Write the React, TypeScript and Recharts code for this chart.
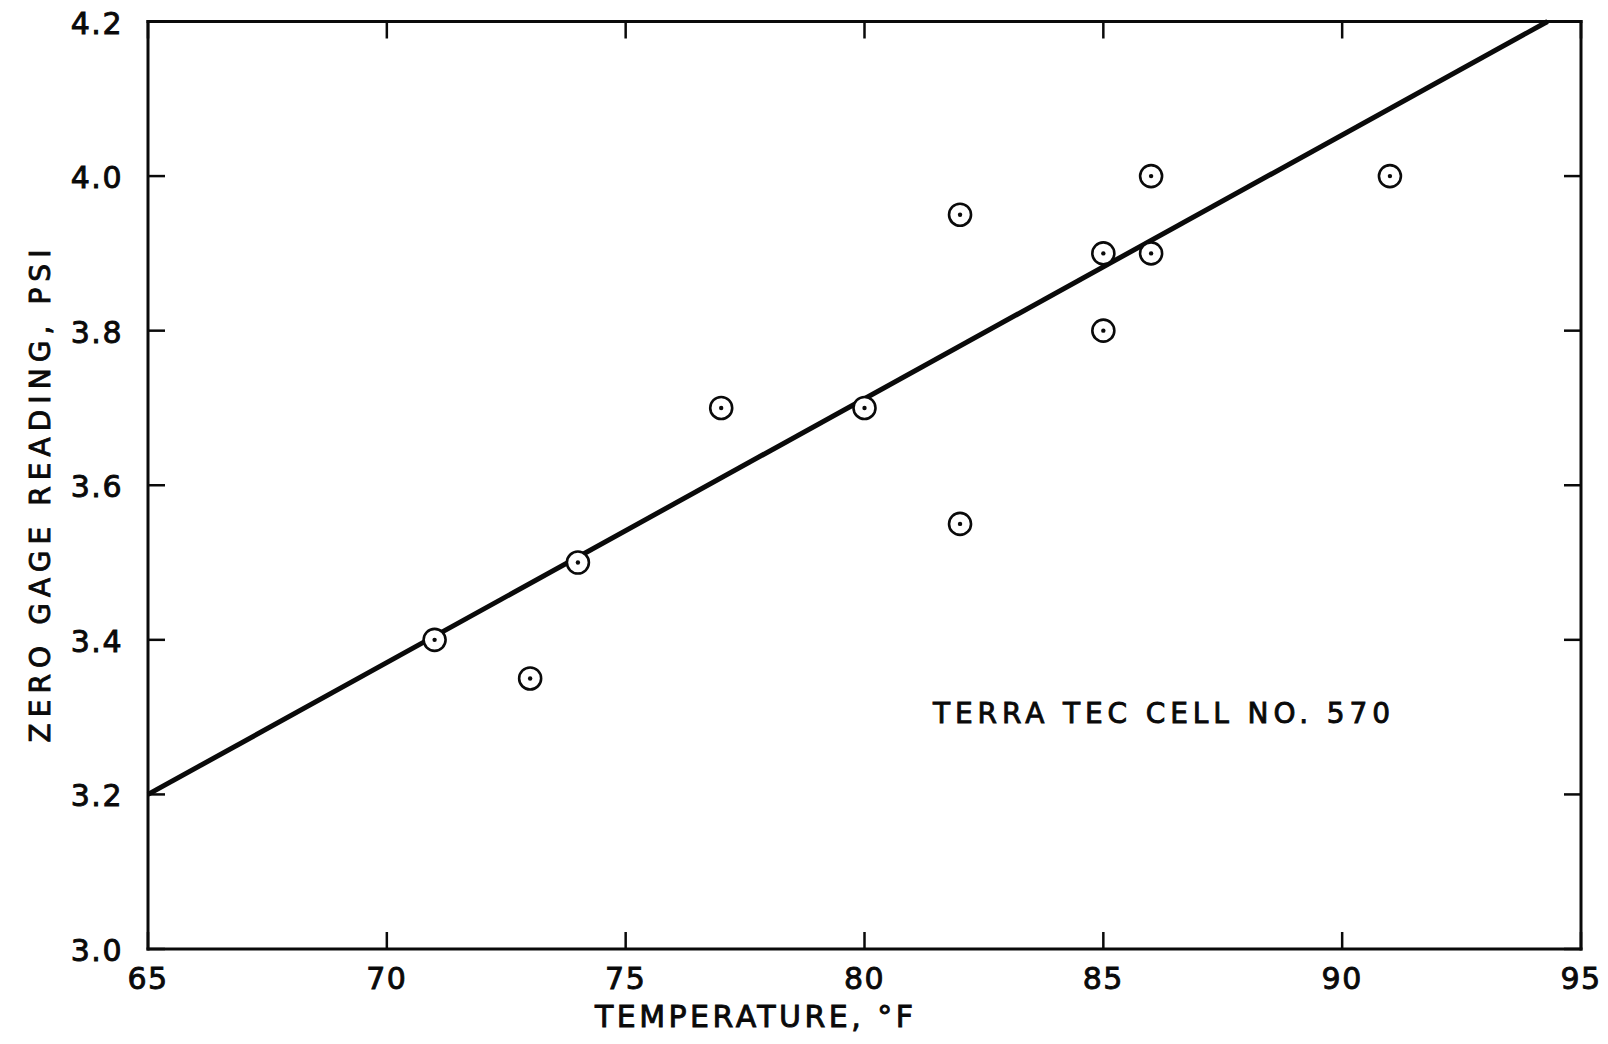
import React from 'react';
import { ScatterChart, Scatter, XAxis, YAxis } from 'recharts';

// ---- data ----
const temperatures = [71, 73, 74, 77, 80, 82, 82, 85, 85, 86, 86, 91];
const gageReadings = [3.4, 3.35, 3.5, 3.7, 3.7, 3.95, 3.55, 3.9, 3.8, 4.0, 3.9, 4.0];
const fitTemperatures = [65, 94.3];
const fitReadings = [3.2, 4.2];
const xTickValues = [65, 70, 75, 80, 85, 90, 95];
const yTickValues = [3.0, 3.2, 3.4, 3.6, 3.8, 4.0, 4.2];
const xAxisTitle = 'TEMPERATURE, °F';
const yAxisTitle = 'ZERO GAGE READING, PSI';
const annotationText = 'TERRA TEC CELL NO. 570';

const points = temperatures.map((t, i) => ({ x: t, y: gageReadings[i] }));
const fitLine = fitTemperatures.map((t, i) => ({ x: t, y: fitReadings[i] }));

const W = 1608;
const H = 1036;
const FONT = '"DejaVu Sans", Arial, sans-serif';
const INK = '#0a0a0a';
const TICK = 17;
const BOLD = 0.9;

const BottomTick = (props: any) => {
  const { x, y, payload } = props;
  return (
    <g>
      <line x1={x} y1={y} x2={x} y2={y - TICK} stroke={INK} strokeWidth={2.5} />
      <text x={x} y={y + 40} textAnchor="middle" fontFamily={FONT} fontSize={30} fill={INK}
        stroke={INK} strokeWidth={BOLD} letterSpacing={1.5}>
        {payload.value}
      </text>
    </g>
  );
};

const TopTick = (props: any) => {
  const { x, y } = props;
  return <line x1={x} y1={y} x2={x} y2={y + TICK} stroke={INK} strokeWidth={2.5} />;
};

const LeftTick = (props: any) => {
  const { x, y, payload } = props;
  return (
    <g>
      <line x1={x} y1={y} x2={x + TICK} y2={y} stroke={INK} strokeWidth={2.5} />
      <text x={x - 25} y={y + 12} textAnchor="end" fontFamily={FONT} fontSize={30} fill={INK}
        stroke={INK} strokeWidth={BOLD} letterSpacing={1.5}>
        {Number(payload.value).toFixed(1)}
      </text>
    </g>
  );
};

const RightTick = (props: any) => {
  const { x, y } = props;
  return <line x1={x} y1={y} x2={x - TICK} y2={y} stroke={INK} strokeWidth={2.5} />;
};

const Marker = (props: any) => {
  const { cx, cy } = props;
  return (
    <g>
      <circle cx={cx} cy={cy} r={11} fill="#fff" stroke={INK} strokeWidth={2.6} />
      <circle cx={cx} cy={cy} r={2.2} fill={INK} />
    </g>
  );
};

const NoShape = () => <g />;

const axisLine = { stroke: INK, strokeWidth: 3, strokeLinecap: 'square' as const };

export default function App() {
  return (
    <div style={{ position: 'relative', width: W, height: H, margin: '-8px 0 0 -8px', background: '#fff' }}>
      <ScatterChart width={W} height={H} margin={{ top: 0, right: 0, bottom: 0, left: 0 }}>
        <XAxis
          xAxisId="bottom"
          type="number"
          dataKey="x"
          orientation="bottom"
          domain={[65, 95]}
          ticks={xTickValues}
          height={87}
          tickSize={0}
          tickMargin={0}
          axisLine={axisLine}
          tickLine={false}
          tick={<BottomTick />}
          interval={0}
        />
        <XAxis
          xAxisId="top"
          type="number"
          dataKey="x"
          orientation="top"
          domain={[65, 95]}
          ticks={xTickValues}
          height={21.5}
          tickSize={0}
          tickMargin={0}
          axisLine={axisLine}
          tickLine={false}
          tick={<TopTick />}
          interval={0}
        />
        <YAxis
          yAxisId="left"
          type="number"
          dataKey="y"
          orientation="left"
          domain={[3.0, 4.2]}
          ticks={yTickValues}
          width={148}
          tickSize={0}
          tickMargin={0}
          axisLine={axisLine}
          tickLine={false}
          tick={<LeftTick />}
          interval={0}
        />
        <YAxis
          yAxisId="right"
          type="number"
          dataKey="y"
          orientation="right"
          domain={[3.0, 4.2]}
          ticks={yTickValues}
          width={27}
          tickSize={0}
          tickMargin={0}
          axisLine={axisLine}
          tickLine={false}
          tick={<RightTick />}
          interval={0}
        />
        <Scatter
          xAxisId="top"
          yAxisId="right"
          data={points}
          shape={<NoShape />}
          isAnimationActive={false}
        />
        <Scatter
          xAxisId="bottom"
          yAxisId="left"
          data={fitLine}
          line={{ stroke: INK, strokeWidth: 5 }}
          lineType="joint"
          shape={<NoShape />}
          isAnimationActive={false}
        />
        <Scatter
          xAxisId="bottom"
          yAxisId="left"
          data={points}
          shape={<Marker />}
          isAnimationActive={false}
        />
      </ScatterChart>
      <svg
        width={W}
        height={H}
        style={{ position: 'absolute', left: 0, top: 0, pointerEvents: 'none' }}
      >
        <text
          x={933}
          y={723}
          fontFamily={FONT}
          fontSize={28}
          fill={INK}
          stroke={INK}
          strokeWidth={BOLD}
          textLength={457}
          lengthAdjust="spacing"
        >
          {annotationText}
        </text>
        <text
          x={595}
          y={1027}
          fontFamily={FONT}
          fontSize={30}
          fill={INK}
          stroke={INK}
          strokeWidth={BOLD}
          textLength={318}
          lengthAdjust="spacing"
        >
          {xAxisTitle}
        </text>
        <text
          transform="translate(50, 496) rotate(-90)"
          textAnchor="middle"
          fontFamily={FONT}
          fontSize={28}
          fill={INK}
          stroke={INK}
          strokeWidth={BOLD}
          textLength={493}
          lengthAdjust="spacing"
        >
          {yAxisTitle}
        </text>
      </svg>
    </div>
  );
}
